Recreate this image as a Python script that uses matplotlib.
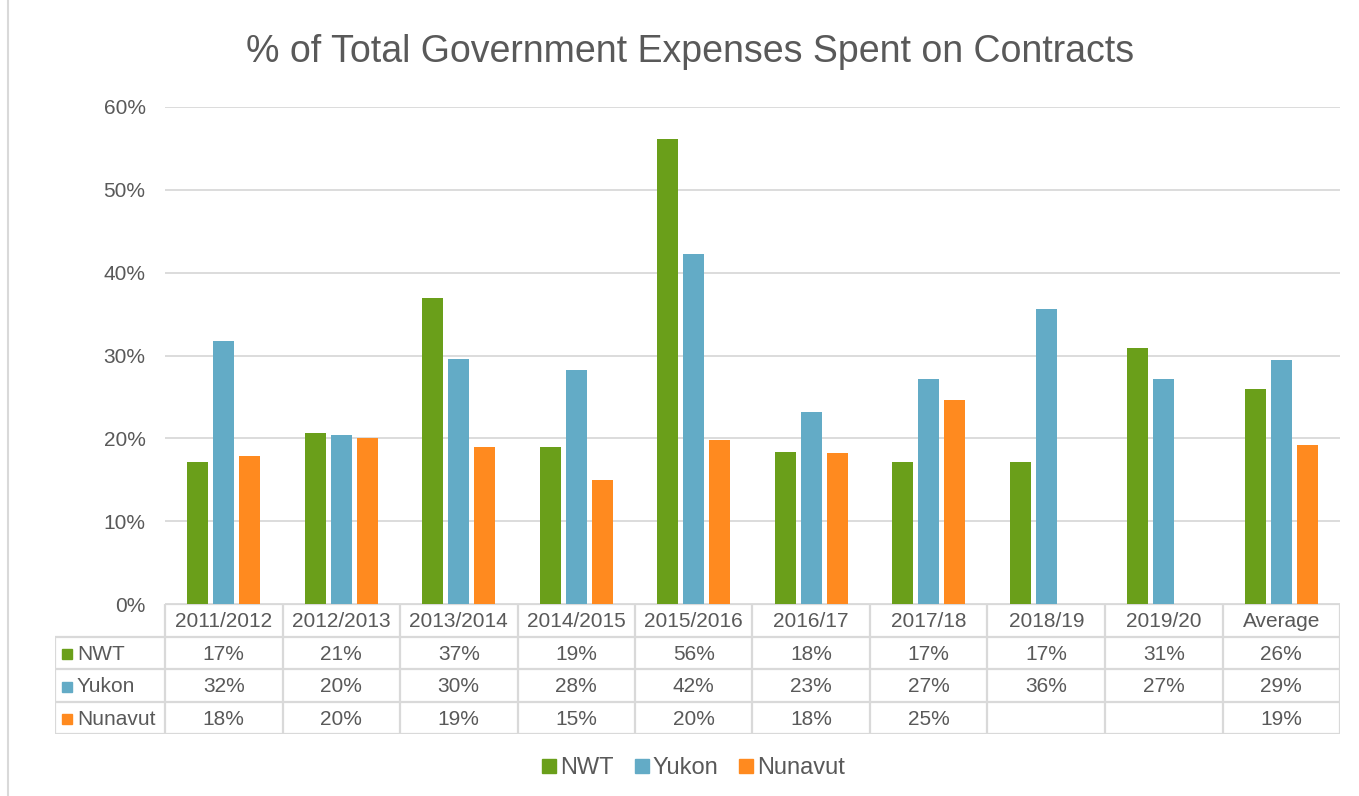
import numpy as np
import matplotlib
matplotlib.use("Agg")
import matplotlib.pyplot as plt
from matplotlib.lines import Line2D

categories = ["2011/2012", "2012/2013", "2013/2014", "2014/2015", "2015/2016",
              "2016/17", "2017/18", "2018/19", "2019/20", "Average"]
series_names = ["NWT", "Yukon", "Nunavut"]
nwt = [17.1, 20.6, 37.0, 18.9, 56.1, 18.3, 17.2, 17.2, 30.9, 25.9]
yukon = [31.8, 20.4, 29.6, 28.2, 42.3, 23.2, 27.2, 35.6, 27.2, 29.4]
nunavut = [17.9, 20.1, 19.0, 15.0, 19.8, 18.2, 24.6, np.nan, np.nan, 19.2]
colors = ["#6A9F1A", "#63ABC6", "#FF8A1F"]

W, H = 1359, 796
TXT = "#595959"
GRID = "#D9D9D9"
plt.rcParams['font.family'] = ['Liberation Sans', 'DejaVu Sans']

def main():
    fig = plt.figure(figsize=(W / 100, H / 100), dpi=100)

    # plot area (pixels: x 165..1340, y 107..604)
    ax = fig.add_axes([165 / W, (H - 604) / H, 1175 / W, (604 - 107) / H])
    x = np.arange(len(categories))
    bw = 0.178
    off = 0.222
    data = [nwt, yukon, nunavut]
    for i, vals in enumerate(data):
        ax.bar(x + (i - 1) * off, vals, bw, color=colors[i], zorder=3,
               label=series_names[i])
    ax.set_xlim(-0.5, len(categories) - 0.5)
    ax.set_ylim(0, 60)
    ax.set_yticks(range(0, 61, 10))
    ax.set_yticklabels([f"{v}%" for v in range(0, 61, 10)])
    ax.tick_params(axis='y', length=0, pad=14, labelsize=15, labelcolor=TXT)
    ax.set_xticks([])
    ax.grid(axis='y', color=GRID, linewidth=1.3, zorder=0)
    for s in ax.spines.values():
        s.set_visible(False)

    # data table below the plot
    unit = 117.5  # pixels per category
    left = -0.5 - 110 / unit
    tab = fig.add_axes([55 / W, (H - 734) / H, (1340 - 55) / W, 130 / H])
    tab.set_xlim(left, len(categories) - 0.5)
    tab.set_ylim(4, 0)
    tab.axis('off')
    lk = dict(color=GRID, linewidth=1.6, solid_capstyle='butt')
    n = len(categories)
    tab.plot([-0.5, n - 0.5], [0, 0], **lk)
    for r in (1, 2, 3, 4):
        tab.plot([left, n - 0.5], [r, r], **lk)
    tab.plot([left, left], [1, 4], **lk)
    for c in range(n + 1):
        tab.plot([c - 0.5, c - 0.5], [0, 4], **lk)
    fs = 15
    for c, cat in enumerate(categories):
        tab.text(c, 0.55, cat, ha='center', va='center', fontsize=fs, color=TXT)
    for r, (name, vals) in enumerate(zip(series_names, data)):
        y = r + 1.55
        tab.plot([left + 12 / unit], [y], marker='s', markersize=7.5,
                 color=colors[r], linestyle='none')
        tab.text(left + 22 / unit, y, name, ha='left', va='center',
                 fontsize=fs, color=TXT)
        for c, v in enumerate(vals):
            if not np.isnan(v):
                tab.text(c, y, f"{round(v):.0f}%", ha='center', va='center',
                         fontsize=fs, color=TXT)

    # title
    fig.text(690 / W, 1 - 52 / H, "% of Total Government Expenses Spent on Contracts",
             ha='center', va='center', fontsize=27, color=TXT)

    # legend
    handles = [Line2D([], [], marker='s', linestyle='none', markersize=9.4,
                      color=colors[i]) for i in range(3)]
    fig.legend(handles, series_names, loc='center', ncol=3,
               bbox_to_anchor=(694 / W, 1 - 768 / H), frameon=False,
               fontsize=17, labelcolor=TXT, handletextpad=0.2,
               columnspacing=0.9, handlelength=0.55)

    # chart border
    fig.add_artist(Line2D([8 / W, 8 / W], [0, 1], color=GRID, linewidth=1.5))

    fig.savefig("out.png", dpi=100, facecolor='white')

if __name__ == "__main__":
    main()
